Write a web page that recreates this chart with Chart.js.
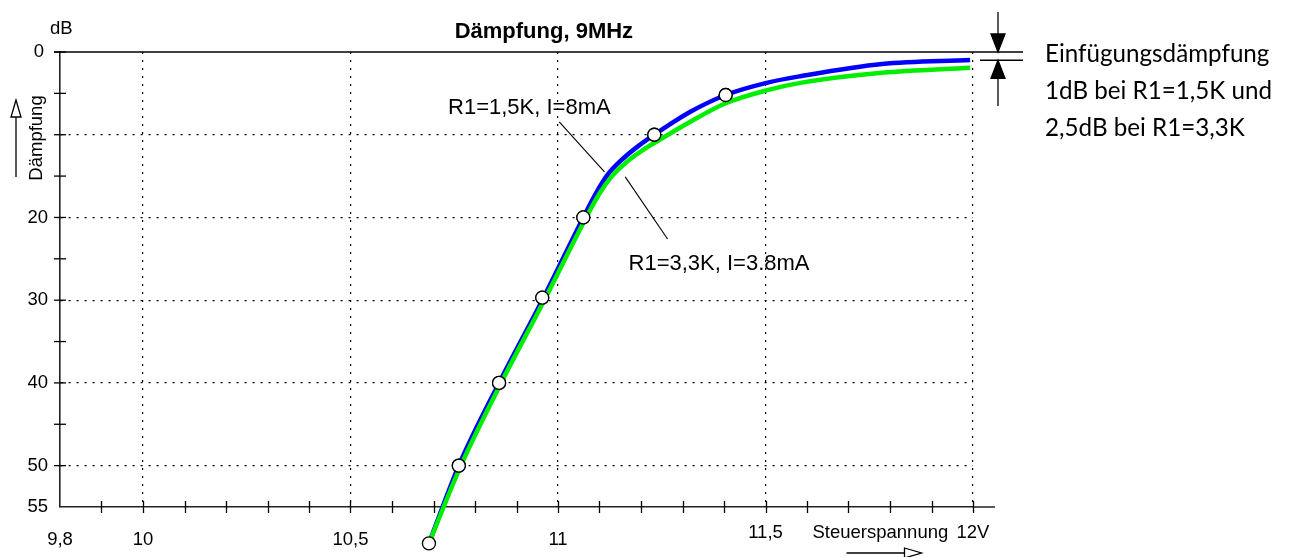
<!DOCTYPE html>
<html>
<head>
<meta charset="utf-8">
<script src="https://cdn.jsdelivr.net/npm/chart.js@4"></script>
<style>
    html, body { margin: 0; padding: 0; background: #fff; }
</style>
</head>
<body>
<canvas id="daempfung" width="1290" height="557"></canvas>
<script>
// Dämpfung über Steuerspannung, 9MHz
const blueVolt = [10.689, 10.761, 10.858, 10.962, 11.061, 11.090, 11.120, 11.150, 11.190, 11.235, 11.320, 11.404, 11.505, 11.587, 11.781, 11.993];
const blueDb = [59.4, 50.0, 40.0, 30.0, 20.0, 17.2, 14.8, 13.2, 11.5, 9.9, 7.2, 5.2, 3.7, 2.9, 1.45, 0.97];

const greenVolt = [10.689, 10.766, 10.863, 10.967, 11.068, 11.100, 11.130, 11.170, 11.200, 11.242, 11.320, 11.404, 11.505, 11.587, 11.781, 11.993];
const greenDb = [59.4, 50.0, 40.0, 30.0, 20.0, 17.1, 15.0, 13.1, 12.0, 10.7, 8.4, 6.2, 4.6, 3.7, 2.5, 1.9];

// Messpunkte (Kreise)
const pointVolt = [10.689, 10.761, 10.858, 10.962, 11.061, 11.232, 11.404];
const pointDb = [59.4, 50.0, 40.0, 29.7, 20.0, 10.0, 5.2];

const xTicks = [9.8, 10, 10.5, 11, 11.5, 12];
const xTickLabels = ["9,8", "10", "10,5", "11", "11,5", "12V"];
const yTicks = [0, 20, 30, 40, 50, 55];

const title = "Dämpfung, 9MHz";
const labelBlue = "R1=1,5K, I=8mA";
const labelGreen = "R1=3,3K, I=3.8mA";
const noteLines = ["Einfügungsdämpfung", "1dB bei R1=1,5K und", "2,5dB bei R1=3,3K"];

const FONT = "'Liberation Sans', Arial, sans-serif";
const toXY = (xs, ys) => xs.map((x, i) => ({ x: x, y: ys[i] }));
const isHalf = v => Math.abs(v * 2 - Math.round(v * 2)) < 1e-6;
const isTen = v => Math.abs(v / 10 - Math.round(v / 10)) < 1e-6;
const clear = "rgba(0,0,0,0)";

function line(ctx, x1, y1, x2, y2) {
    ctx.beginPath();
    ctx.moveTo(x1, y1);
    ctx.lineTo(x2, y2);
    ctx.stroke();
}

function triangle(ctx, pts, filled) {
    ctx.save();
    ctx.beginPath();
    ctx.moveTo(pts[0][0], pts[0][1]);
    ctx.lineTo(pts[1][0], pts[1][1]);
    ctx.lineTo(pts[2][0], pts[2][1]);
    ctx.closePath();
    ctx.fillStyle = filled ? "#000" : "#fff";
    ctx.fill();
    ctx.stroke();
    ctx.restore();
}

const decor = {
    id: "decor",
    afterDatasetsDraw(chart) {
        // Kreise auch außerhalb der Zeichenfläche (unterster Messpunkt)
        const meta = chart.getDatasetMeta(0);
        meta.data.forEach(el => el.draw(chart.ctx));
    },
    afterDraw(chart) {
        const { ctx, chartArea: a } = chart;
        const x = chart.scales.x;
        const y = chart.scales.y;
        ctx.save();
        ctx.strokeStyle = "#000";
        ctx.fillStyle = "#000";
        ctx.lineWidth = 1.3;

        // obere Linie (0 dB) und Verlängerung der x-Achse
        const y0 = y.getPixelForValue(0);
        line(ctx, a.left - 6, y0, a.right + 50, y0);
        line(ctx, a.right, a.bottom, a.right + 22, a.bottom);

        // Teilstriche
        y.ticks.forEach(t => {
            if (t.value >= 55) return;
            const py = y.getPixelForValue(t.value);
            line(ctx, a.left - 6, py, a.left + 6, py);
        });
        x.ticks.forEach(t => {
            if (t.value < 9.85) return;
            const px = Math.round(x.getPixelForValue(t.value)) + 0.5;
            line(ctx, px, a.bottom - 6, px, a.bottom + 6);
        });

        // Achsenbeschriftung
        ctx.font = "18.5px " + FONT;
        ctx.textAlign = "right";
        ctx.textBaseline = "middle";
        yTicks.forEach(v => ctx.fillText(String(v), v === 0 ? a.left - 16 : a.left - 12, y.getPixelForValue(v)));

        ctx.textAlign = "center";
        ctx.textBaseline = "alphabetic";
        xTicks.forEach((v, i) => {
            const by = v >= 11.5 ? a.bottom + 31 : a.bottom + 38;
            ctx.fillText(xTickLabels[i], x.getPixelForValue(v), by);
        });

        ctx.textAlign = "left";
        ctx.fillText("dB", a.left - 10, a.top - 18);
        ctx.fillText("Steuerspannung", x.getPixelForValue(11.5) + 47, a.bottom + 31);

        // Pfeil unter "Steuerspannung"
        const ay = a.bottom + 46;
        const ax = x.getPixelForValue(11.5) + 81;
        line(ctx, ax, ay, ax + 58, ay);
        triangle(ctx, [[ax + 58, ay - 5], [ax + 58, ay + 5], [ax + 75, ay]], false);

        // y-Achsentitel mit Pfeil
        ctx.save();
        ctx.translate(42, 138);
        ctx.rotate(-Math.PI / 2);
        ctx.textAlign = "center";
        ctx.fillText("Dämpfung", 0, 0);
        ctx.restore();
        line(ctx, 16, 117, 16, 177);
        triangle(ctx, [[16, 100], [11, 117], [21, 117]], false);

        // Titel
        ctx.font = "bold 22px " + FONT;
        ctx.textAlign = "center";
        ctx.fillText(title, x.getPixelForValue(10.966), a.top - 14);

        // Kurvenbeschriftungen mit Hinweislinien
        ctx.font = "22px " + FONT;
        ctx.textAlign = "left";
        ctx.fillText(labelBlue, x.getPixelForValue(10.735), y.getPixelForValue(7.5));
        ctx.fillText(labelGreen, x.getPixelForValue(11.170), y.getPixelForValue(26.35));
        ctx.lineWidth = 1.1;
        line(ctx, x.getPixelForValue(11.003), y.getPixelForValue(8.45), x.getPixelForValue(11.112), y.getPixelForValue(14.5));
        line(ctx, x.getPixelForValue(11.162), y.getPixelForValue(15.1), x.getPixelForValue(11.264), y.getPixelForValue(22.6));

        // Einfügungsdämpfung: Maßpfeile
        ctx.lineWidth = 1.3;
        const mx = a.right + 25;
        const y1 = y.getPixelForValue(1);
        line(ctx, a.right + 7, y1, a.right + 50, y1);
        line(ctx, mx, 12, mx, 36);
        triangle(ctx, [[mx - 7, 34], [mx + 7, 34], [mx, y0]], true);
        triangle(ctx, [[mx, y1], [mx - 7, y1 + 18], [mx + 7, y1 + 18]], true);
        line(ctx, mx, y1 + 18, mx, 106);

        // Notiz rechts
        ctx.font = "100px Lato";
        const fit = 100 * 225 / ctx.measureText(noteLines[0]).width;
        ctx.font = fit.toFixed(1) + "px Lato";
        noteLines.forEach((s, i) => ctx.fillText(s, a.right + 72, 62 + i * 37));

        ctx.restore();
    }
};

new Chart(document.getElementById("daempfung"), {
    type: "line",
    data: {
        datasets: [
            {
                label: "Messpunkte",
                type: "scatter",
                data: toXY(pointVolt, pointDb),
                pointRadius: 6.5,
                pointBackgroundColor: "#fff",
                pointBorderColor: "#000",
                pointBorderWidth: 1.3,
                showLine: false,
                clip: false,
                order: 0,
            },
            {
                label: "R1=3,3K",
                data: toXY(greenVolt, greenDb),
                borderColor: "#00ee00",
                borderWidth: 4.5,
                pointRadius: 0,
                cubicInterpolationMode: "monotone",
                clip: false,
                order: 1,
            },
            {
                label: "R1=1,5K",
                data: toXY(blueVolt, blueDb),
                borderColor: "#0000ff",
                borderWidth: 4.5,
                pointRadius: 0,
                cubicInterpolationMode: "monotone",
                clip: false,
                order: 2,
            },
        ],
    },
    options: {
        responsive: false,
        devicePixelRatio: 1,
        animation: false,
        layout: { padding: { top: 52, right: 317, bottom: 0, left: 0 } },
        plugins: { legend: { display: false }, tooltip: { enabled: false } },
        scales: {
            x: {
                type: "linear",
                min: 9.8,
                max: 12,
                afterFit: s => { s.height = 50; },
                ticks: { display: false, stepSize: 0.1 },
                grid: {
                    drawTicks: false,
                    lineWidth: 1.2,
                    color: c => (c.tick && c.tick.value > 9.9 && isHalf(c.tick.value)) ? "#000" : clear,
                },
                border: { color: "#222", width: 1.6, dash: [2, 6] },
            },
            y: {
                type: "linear",
                reverse: true,
                min: 0,
                max: 55,
                afterFit: s => { s.width = 60; },
                ticks: { display: false, stepSize: 5 },
                grid: {
                    drawTicks: false,
                    lineWidth: 1.2,
                    color: c => (c.tick && c.tick.value > 0 && c.tick.value < 55 && isTen(c.tick.value)) ? "#000" : clear,
                },
                border: { color: "#222", width: 1.6, dash: [2, 6] },
            },
        },
    },
    plugins: [decor],
});
</script>
</body>
</html>
